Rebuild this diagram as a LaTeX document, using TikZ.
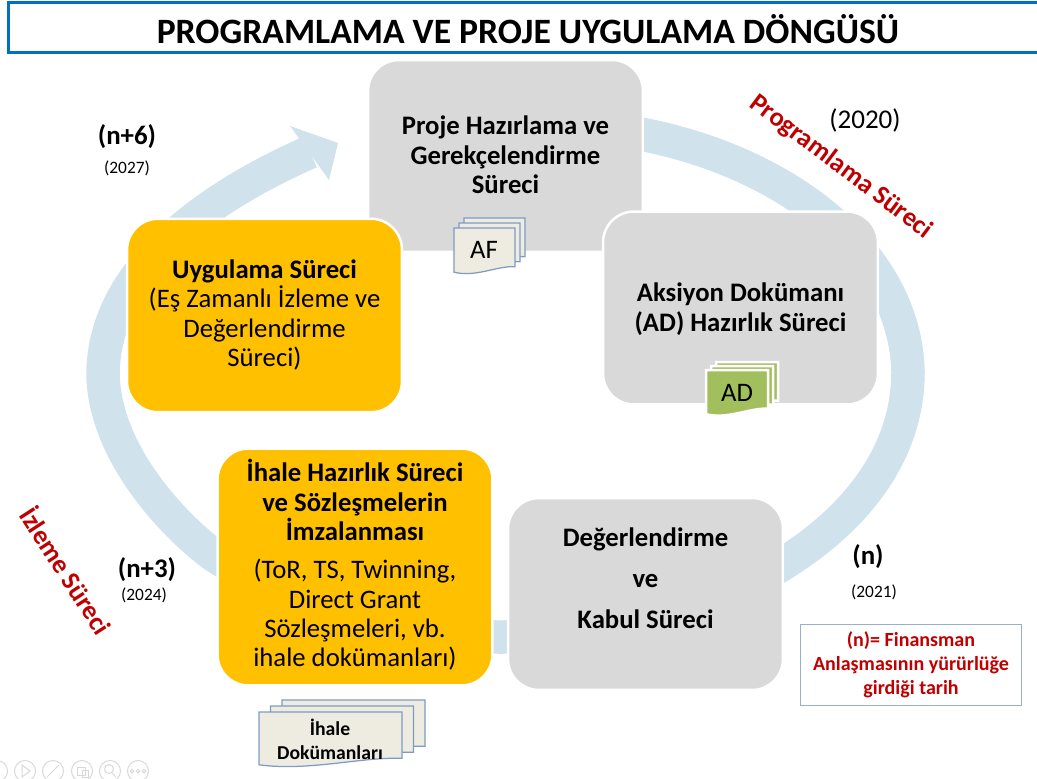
\documentclass[tikz,border=0pt]{standalone}
\usepackage{fontspec}
\usepackage{xcolor}
\setmainfont{Carlito}
\usetikzlibrary{positioning}
\definecolor{ringblue}{HTML}{D0E2EB}
\definecolor{blockgray}{HTML}{D9D9D9}
\definecolor{blockyellow}{HTML}{FFC000}
\definecolor{titleblue}{HTML}{0070C0}
\definecolor{notered}{HTML}{C00000}
\definecolor{sheetcream}{HTML}{EEECE1}
\definecolor{sheetline}{HTML}{7F9BC4}
\definecolor{sheetgreen}{HTML}{A2BF5E}
\definecolor{controlgray}{HTML}{D8D8D8}
\tikzset{
  block/.style={rectangle,rounded corners=0.62cm,draw=white,line width=0.05cm,
    minimum width=5.5cm,align=center},
  grayblock/.style={block,fill=blockgray},
  yellowblock/.style={block,fill=blockyellow},
  blocktext/.style={align=center,font=\fontsize{15.2}{16.7}\selectfont},
  blockhead/.style={align=center,font=\fontsize{15.2}{16.7}\selectfont\bfseries},
  phase/.style={font=\fontsize{15.1}{18}\selectfont\bfseries,text=notered},
  stage/.style={font=\fontsize{15.3}{18}\selectfont\bfseries},
  year/.style={font=\fontsize{9.9}{12}\selectfont},
  plainsheet/.style={draw=sheetline,fill=sheetcream,line width=0.025cm},
  greensheet/.style={draw=white,fill=sheetgreen,line width=0.05cm},
  sheetlabel/.style={font=\fontsize{15.2}{18}\selectfont},
  control/.style={draw=controlgray,line width=0.02cm},
}
% three sheets, back one first: left, top, width, height, shift x, shift y, style
\newcommand{\docstack}[7]{
  \foreach \i in {2,1,0} {
    \draw [#7] (#1+\i*#5,#2-\i*#6) -- (#1+\i*#5+#3,#2-\i*#6) -- (#1+\i*#5+#3,#2-\i*#6+0.84*#4)
      .. controls (#1+\i*#5+0.7*#3,#2-\i*#6+0.82*#4) and (#1+\i*#5+0.35*#3,#2-\i*#6+1.08*#4)
      .. (#1+\i*#5,#2-\i*#6+0.96*#4) -- cycle;
  }
}
\begin{document}
\begin{tikzpicture}[x=0.02cm,y=-0.02cm]
    \useasboundingbox (0,0) rectangle (1037,778);
    % big ring goes behind the blocks
    \draw [ringblue,line width=0.67cm] (600,128)
      .. controls (760,145) and (905,240) .. (908,372)
      .. controls (908,450) and (860,515) .. (786,562)
      .. controls (700,617) and (600,637) .. (500,637)
      .. controls (400,637) and (290,605) .. (215,556)
      .. controls (185,535) and (105,460) .. (103,375)
      .. controls (103,280) and (190,205) .. (310,152);
    \fill [ringblue] (290,126) -- (338,143) -- (329,180) -- cycle;

    % right edge of the title box runs off the page
    \node at (534,27.5) [rectangle,draw=titleblue,fill=white,line width=0.06cm,
      minimum width=21.04cm,minimum height=1cm] (title) {};
    \node at (528,29) [font=\fontsize{20.3}{24}\selectfont\bfseries] (title_text)
      {PROGRAMLAMA VE PROJE UYGULAMA DÖNGÜSÜ};

    \node at (505.5,156) [grayblock,minimum height=3.84cm] (prep) {};
    \node at (505.5,155) [blockhead] (prep_text)
      {Proje Hazırlama ve \\ Gerekçelendirme \\ Süreci};
    \node at (740.5,308) [grayblock,minimum height=3.86cm] (action) {};
    \node at (740.5,309) [blockhead] (action_text)
      {Aksiyon Dokümanı \\ (AD) Hazırlık Süreci};
    \node at (645.5,594) [grayblock,minimum height=3.84cm] (review) {};
    \node at (645.5,578) [align=center,font=\fontsize{15.2}{23.3}\selectfont\bfseries] (review_text)
      {Değerlendirme \\ ve \\ Kabul Süreci};
    \node at (264.5,315.5) [yellowblock,minimum height=3.87cm] (impl) {};
    \node at (264.5,315) [blocktext] (impl_text)
      {\textbf{Uygulama Süreci} \\ (Eş Zamanlı İzleme ve \\ Değerlendirme \\ Süreci)};
    \node at (355,567) [yellowblock,minimum height=4.74cm] (tender) {};
    \node at (355,500) [blockhead] (tender_head)
      {İhale Hazırlık Süreci \\ ve Sözleşmelerin \\ İmzalanması};
    \node at (355,615) [blocktext] (tender_text)
      {(ToR, TS, Twinning, \\ Direct Grant \\ Sözleşmeleri, vb. \\ ihale dokümanları)};

    \docstack{454}{228}{61}{46}{5}{5}{plainsheet}
    \node at (484,250) [sheetlabel] (af) {AF};
    \docstack{706}{370}{62}{46}{5}{4}{greensheet}
    \node at (737,393) [sheetlabel] (ad) {AD};
    \docstack{259}{712}{143}{55}{11.5}{6}{plainsheet}
    \node at (330,739.5) [align=center,font=\fontsize{11.2}{14}\selectfont\bfseries] (tender_docs)
      {İhale \\ Dokümanları};

    \node at (841,167) [phase,rotate=-37] (prog_phase) {Programlama Süreci};
    \node at (67,570) [phase,rotate=-57] (watch_phase) {İzleme Süreci};

    \node at (127,136.5) [stage] (n_six) {(n+6)};
    \node at (127,168.5) [year] (y_six) {(2027)};
    \node at (865,120) [font=\fontsize{15.4}{18}\selectfont] (y_start) {(2020)};
    \node at (868,556.5) [stage] (n_zero) {(n)};
    \node at (874,592.5) [year] (y_zero) {(2021)};
    \node at (147,569.5) [stage] (n_three) {(n+3)};
    \node at (144,595.5) [year] (y_three) {(2024)};

    \node at (911,664.5) [rectangle,draw=sheetline!80,line width=0.02cm,minimum width=4.44cm,
      minimum height=1.62cm,align=center,text=notered,
      font=\fontsize{11.4}{13.6}\selectfont\bfseries] (note)
      {(n)= Finansman \\ Anlaşmasının yürürlüğe \\ girdiği tarih};

    % slide show buttons
    \foreach \cx in {-3,25,53,82,110,138} {
      \draw [control] (\cx,771) circle (10.5);
    }
    \draw [control] (22,765) -- (30,771) -- (22,777) -- cycle;
    \draw [control] (47,777) -- (59,765);
    \draw [control] (77,767) rectangle (85,775);
    \draw [control] (82,770) rectangle (88,777);
    \draw [control] (109,769) circle (4.5);
    \draw [control] (112,773) -- (116,777);
    \foreach \cx in {132,138,144} {
      \draw [control] (\cx,771) circle (1.8);
    }
  \end{tikzpicture}
\end{document}
